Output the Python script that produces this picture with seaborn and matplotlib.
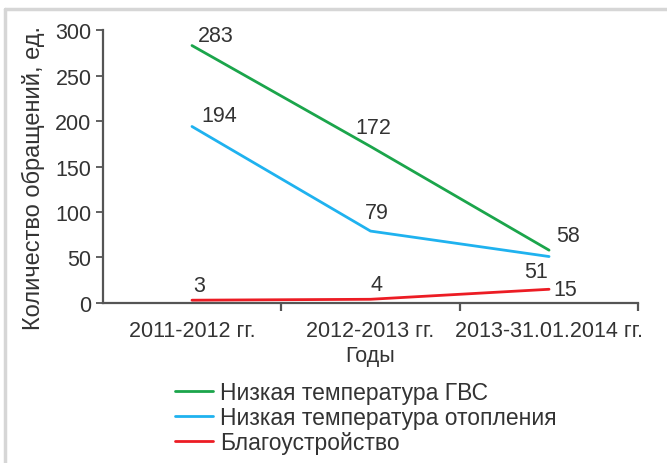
import matplotlib
matplotlib.use("Agg")
import matplotlib.pyplot as plt
import seaborn as sns
import pandas as pd

# данные с графика
periods = ["2011-2012 гг.", "2012-2013 гг.", "2013-31.01.2014 гг."]
gvs = [283, 172, 58]
otoplenie = [194, 79, 51]
blagoustr = [3, 4, 15]
series_names = ["Низкая температура ГВС", "Низкая температура отопления", "Благоустройство"]

colors = ["#1ba54b", "#1fb2ef", "#ec1c24"]
text_color = "#333333"
axis_color = "#555555"
fs = 15.5

df = pd.DataFrame({
    "Годы": periods * 3,
    "value": gvs + otoplenie + blagoustr,
    "series": [s for s in series_names for _ in periods],
})

sns.set_style("white")
plt.rcParams["font.family"] = ["Liberation Sans", "DejaVu Sans"]
plt.rcParams["text.color"] = text_color

fig = plt.figure(figsize=(6.67, 4.64), dpi=100)
ax = fig.add_axes([0.154, 0.345, 0.803, 0.588])

sns.lineplot(data=df, x="Годы", y="value", hue="series", palette=colors,
             linewidth=2, sort=False, legend=True, ax=ax)

ax.set_xlim(-0.5, 2.5)
ax.set_ylim(0, 300)
ax.set_yticks(range(0, 301, 50))

# подписи категорий по центру, штрихи между ними
ax.set_xticks([0.5, 1.5, 2.5])
ax.set_xticklabels([])
ax.set_xticks([0, 1, 2], minor=True)
ax.set_xticklabels(periods, minor=True)
ax.tick_params(axis="x", which="both", bottom=True)
ax.tick_params(axis="x", which="minor", length=0, labelsize=fs, labelcolor=text_color, pad=12)
ax.tick_params(axis="x", which="major", length=6, width=1.6, direction="out", color=axis_color)
ax.tick_params(axis="y", left=True, length=5, width=1.3, labelsize=fs, labelcolor=text_color,
               pad=3, color=axis_color)

for side in ["top", "right"]:
    ax.spines[side].set_visible(False)
for side in ["left", "bottom"]:
    ax.spines[side].set_color(axis_color)
    ax.spines[side].set_linewidth(1.6)

ax.set_xlabel("Годы", fontsize=fs, color=text_color, labelpad=3)
ax.set_ylabel("Количество обращений, ед.", fontsize=17, color=text_color)
ax.yaxis.set_label_coords(-0.107, 0.46)

# подписи значений: смещения в точках (dx, dy, ha, va)
label_pos = [
    [(4, 0, "left", "bottom"), (-11, 6, "left", "bottom"), (5, 3, "left", "bottom")],
    [(7, 0, "left", "bottom"), (-4, 6, "left", "bottom"), (-1, -3, "right", "top")],
    [(1, 3, "left", "bottom"), (0, 3, "left", "bottom"), (3, 0, "left", "center")],
]
for vals, poss in zip([gvs, otoplenie, blagoustr], label_pos):
    for i, (v, (dx, dy, ha, va)) in enumerate(zip(vals, poss)):
        ax.annotate(str(v), (i, v), xytext=(dx, dy), textcoords="offset points",
                    fontsize=fs, ha=ha, va=va, color=text_color)

handles, labels = ax.get_legend_handles_labels()
ax.get_legend().remove()
fig.legend(handles, labels, loc="upper left", bbox_to_anchor=(0.262, 0.1765),
           frameon=False, fontsize=16.5, handlelength=1.66, handletextpad=0.32,
           labelspacing=0.08, borderpad=0, borderaxespad=0)

# серая рамка сверху и слева
fig.add_artist(plt.Line2D([0.008, 1.0], [0.978, 0.978], color="#d6d6d6", linewidth=2.5,
                          transform=fig.transFigure))
fig.add_artist(plt.Line2D([0.008, 0.008], [0.0, 0.978], color="#d6d6d6", linewidth=2.5,
                          transform=fig.transFigure))

fig.savefig("out.png", dpi=100)
